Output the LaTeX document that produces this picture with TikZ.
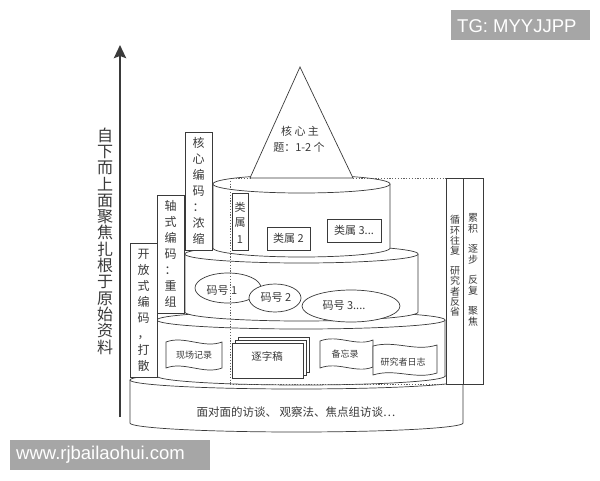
\documentclass[tikz,border=0pt]{standalone}
\usepackage{fontspec}
\newfontfamily\cjk{Noto Sans CJK SC}
\newfontfamily\wmfont{Liberation Sans}
\usetikzlibrary{arrows.meta}
\definecolor{ink}{HTML}{3A3A3A}
\definecolor{wmgray}{HTML}{A6A6A6}
\newcommand\tiercyl[5]{%
  \filldraw[tierstyle] ({#1-#2},#3) -- plot[domain=180:0,samples=60] ({#1+#2*cos(\x)},{#4+#5*sin(\x)}) -- plot[domain=0:-180,samples=60] ({#1+#2*cos(\x)},{#3+#5*sin(\x)}) -- cycle;
  \draw[tierstyle] plot[domain=0:180,samples=60] ({#1+#2*cos(\x)},{#3+#5*sin(\x)});
}
\begin{document}
\begin{tikzpicture}[x=1pt,y=-1pt,
  line/.style={draw=ink,line width=0.7pt},
  tierstyle/.style={line,fill=white},
  boxstyle/.style={line,fill=white,inner sep=0pt},
  lbl/.style={font=\cjk\fontsize{11}{13}\selectfont,text=ink,inner sep=0pt},
  doclbl/.style={font=\cjk\fontsize{9}{11}\selectfont,text=ink,inner sep=0pt},
  vlab/.style={align=center,inner sep=0pt,text=ink},
  dotline/.style={draw=ink!80,line width=0.6pt,dash pattern=on 1.2pt off 1.6pt},
  wmtext/.style={font=\wmfont\fontsize{18.5}{20}\selectfont,text=white,inner sep=0pt,anchor=west}]
\useasboundingbox (0,0) rectangle (600,480);
\fill[white] (0,0) rectangle (600,480);

% base tier
\tiercyl{296.5}{166.5}{380}{423}{9}
\node[lbl,font=\cjk\fontsize{11.5}{13}\selectfont] (fieldwork) at (296,412) {面对面的访谈、 观察法、焦点组访谈…};

% tier 1: raw documents
\tiercyl{301}{144}{320}{376}{9}
\filldraw[tierstyle] (166,342) .. controls (184,335) and (204,349) .. (222,342) -- (222,368) .. controls (204,375) and (184,361) .. (166,368) -- cycle;
\node[doclbl] (fieldnotes) at (194,355) {现场记录};
\filldraw[tierstyle] (238,337) rectangle (309,372);
\filldraw[tierstyle] (235,340) rectangle (306,375);
\filldraw[tierstyle] (232,343) rectangle (303,378);
\node[lbl,font=\cjk\fontsize{10.5}{12}\selectfont] (transcript) at (267,356) {逐字稿};
\filldraw[tierstyle] (320,341) .. controls (338,334) and (356,347) .. (373,340) -- (373,367) .. controls (356,374) and (338,361) .. (320,368) -- cycle;
\node[doclbl] (memo) at (345,354) {备忘录};
\filldraw[tierstyle] (373,346) .. controls (395,340) and (415,352) .. (437,345) -- (437,373) .. controls (415,380) and (395,368) .. (373,375) -- cycle;
\node[doclbl] (journal) at (403,362) {研究者日志};

% tier 2: codes
\tiercyl{301.5}{116.5}{254}{312}{9}
\filldraw[tierstyle] (228,288) ellipse [x radius=33,y radius=15];
\node[lbl] (code1) at (222,291) {码号 1};
\filldraw[tierstyle] (275,298) ellipse [x radius=26,y radius=14];
\node[lbl] (code2) at (276,298) {码号 2};
\filldraw[tierstyle] (351,306) ellipse [x radius=49,y radius=16];
\node[lbl] (code3) at (344,306) {码号 3....};

% tier 3: categories
\tiercyl{301.5}{88.5}{184}{248}{9}
\node[boxstyle,minimum width=16pt,minimum height=57pt] (cat1box) at (240,221.5) {};
\node[vlab,font=\cjk\fontsize{11}{15}\selectfont] (cat1) at (240,223) {类\\属\\[2pt]1};
\node[boxstyle,minimum width=43pt,minimum height=23pt,font=\cjk\fontsize{11}{13}\selectfont,text=ink] (cat2) at (288.5,238.5) {类属 2};
\node[boxstyle,minimum width=54pt,minimum height=23pt,font=\cjk\fontsize{11}{13}\selectfont,text=ink] (cat3) at (354,230.5) {类属 3...};

% top: core theme
\filldraw[tierstyle] (300,67) -- (353,178) -- (250,178) -- cycle;
\node[lbl] (core1) at (300,131) {核 心 主};
\node[lbl] (core2) at (299,147) {题：1-2 个};

% dotted frame
\coordinate (d1) at (230,178);
\coordinate (d2) at (250,178);
\coordinate (d3) at (353,178);
\coordinate (d4) at (446,178);
\coordinate (d5) at (230,384);
\coordinate (d6) at (446,384);
\draw[dotline] (d1) -- (d2);
\draw[dotline] (d3) -- (d4);
\draw[dotline] (d1) -- (d5);
\draw[dotline] (d5) -- (d6);

% coding stages (left)
\node[boxstyle,minimum width=27pt,minimum height=118pt,align=center,font=\cjk\fontsize{12}{16}\selectfont,text=ink] (selective) at (198.5,191) {核\\心\\编\\码\\：\\浓\\缩};
\node[boxstyle,minimum width=27pt,minimum height=118pt,align=center,font=\cjk\fontsize{12}{16}\selectfont,text=ink] (axial) at (170.5,254) {轴\\式\\编\\码\\：\\重\\组};
\node[boxstyle,minimum width=27pt,minimum height=134pt,align=center,font=\cjk\fontsize{12}{16}\selectfont,text=ink] (open) at (143.5,310) {开\\放\\式\\编\\码\\，\\打\\散};

% process (right)
\node[boxstyle,minimum width=17pt,minimum height=206pt] (loopbox) at (454.5,281) {};
\node[boxstyle,minimum width=20pt,minimum height=206pt] (accbox) at (473,281) {};
\node[vlab,font=\cjk\fontsize{10}{10.3}\selectfont] (loop) at (455,266) {循\\环\\往\\复\\[9.5pt]研\\究\\者\\反\\省};
\node[vlab,font=\cjk\fontsize{10}{11}\selectfont] (acc) at (473,270) {累\\积\\[9pt]逐\\步\\[9pt]反\\复\\[9pt]聚\\焦};

% bottom-up arrow
\coordinate (abot) at (120,417);
\coordinate (atop) at (120,45);
\draw[ink,line width=2.6pt,-{Stealth[length=13pt,width=12pt,inset=2pt]}] (abot) -- (atop);
\node[vlab,font=\cjk\fontsize{16}{16.3}\selectfont] (bottomup) at (105,241) {自\\下\\而\\上\\面\\聚\\焦\\扎\\根\\于\\原\\始\\资\\料};

% watermarks
\node[fill=wmgray,draw=none,minimum width=139pt,minimum height=30pt,inner sep=0pt,anchor=north west] (tgbox) at (451,10) {};
\node[wmtext] (tg) at (457,26) {TG: MYYJJPP};
\node[fill=wmgray,draw=none,minimum width=200pt,minimum height=30pt,inner sep=0pt,anchor=north west] (urlbox) at (10,440) {};
\node[wmtext] (url) at (16,455) {www.rjbailaohui.com};
\end{tikzpicture}
\end{document}
